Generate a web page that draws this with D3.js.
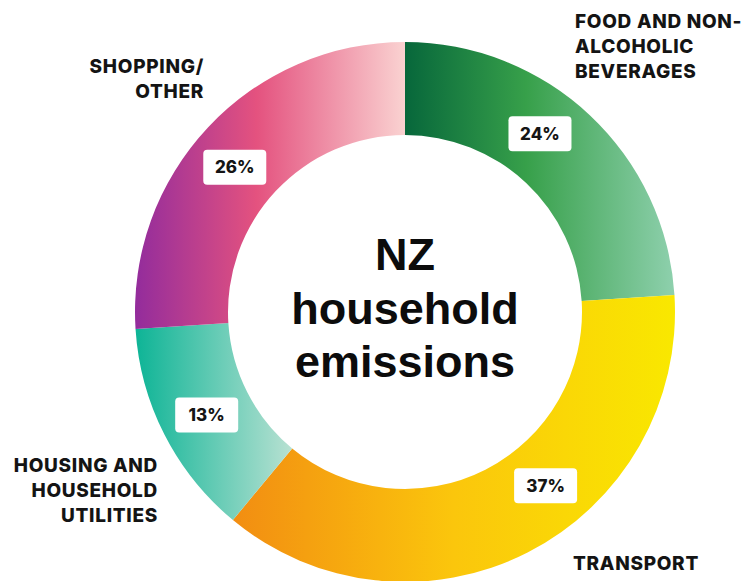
<!DOCTYPE html>
<html>
<head>
<meta charset="utf-8">
<script src="https://cdn.jsdelivr.net/npm/d3@7"></script>
<style>
  html, body { margin: 0; padding: 0; background: #ffffff; }
  svg { display: block; }
</style>
</head>
<body>
<div id="chart"></div>
<script>
// ---- data ----
const categories = ["FOOD AND NON-ALCOHOLIC BEVERAGES", "TRANSPORT", "HOUSING AND HOUSEHOLD UTILITIES", "SHOPPING/OTHER"];
const shares = [24, 37, 13, 26];
const percentLabels = ["24%", "37%", "13%", "26%"];
const categoryLines = [
  ["FOOD AND NON-", "ALCOHOLIC", "BEVERAGES"],
  ["TRANSPORT"],
  ["HOUSING AND", "HOUSEHOLD", "UTILITIES"],
  ["SHOPPING/", "OTHER"]
];
const centerTitle = ["NZ", "household", "emissions"];

// ---- layout / style ----
const W = 744, H = 581;
const cx = 405, cy = 312;
const outerR = 270, innerR = 177;
const gradients = [
  [[0, "#07673b"], [0.45, "#37a04a"], [1, "#8ed0ad"]],
  [[0, "#f28d12"], [0.5, "#fbc60c"], [1, "#f9e800"]],
  [[0, "#0db496"], [1, "#b8e1d2"]],
  [[0, "#932c9c"], [0.45, "#e4527f"], [1, "#fad2d1"]]
];
// position of the % box along each arc (fraction of its sweep)
const labelFrac = [0.43, 0.41, 0.49, 0.47];
const labelAnchors = [
  {x: 575, y: 28, anchor: "start"},
  {x: 573, y: 570, anchor: "start"},
  {x: 158, y: 472, anchor: "end"},
  {x: 204, y: 73, anchor: "end"}
];
const catLineH = 25;

const svg = d3.select("#chart").append("svg")
  .attr("width", W).attr("height", H);

const defs = svg.append("defs");
gradients.forEach((stops, i) => {
  const g = defs.append("linearGradient")
    .attr("id", "grad" + i)
    .attr("x1", 0).attr("y1", 0).attr("x2", 1).attr("y2", 0);
  stops.forEach(([o, c]) => g.append("stop").attr("offset", o).attr("stop-color", c));
});

const pie = d3.pie().sort(null).value(d => d)(shares);
const arc = d3.arc().innerRadius(innerR).outerRadius(outerR);

const g = svg.append("g").attr("transform", `translate(${cx},${cy})`);

g.selectAll("path.slice")
  .data(pie)
  .join("path")
  .attr("class", "slice")
  .attr("d", arc)
  .attr("fill", (d, i) => `url(#grad${i})`);

// percentage boxes
const midR = (innerR + outerR) / 2;
const boxW = 63, boxH = 35;
const lab = g.selectAll("g.pct")
  .data(pie)
  .join("g")
  .attr("class", "pct")
  .attr("transform", (d, i) => {
    const a = d.startAngle + (d.endAngle - d.startAngle) * labelFrac[i];
    const x = midR * Math.sin(a), y = -midR * Math.cos(a);
    return `translate(${x},${y})`;
  });
lab.append("rect")
  .attr("x", -boxW / 2).attr("y", -boxH / 2)
  .attr("width", boxW).attr("height", boxH)
  .attr("rx", 4).attr("fill", "#ffffff");
lab.append("text")
  .attr("text-anchor", "middle")
  .attr("dy", "0.36em")
  .attr("font-family", "Inter, 'Liberation Sans', Arial, sans-serif")
  .attr("font-weight", 800)
  .attr("font-size", 17)
  .attr("fill", "#151515")
  .text((d, i) => percentLabels[i]);

// category labels
categoryLines.forEach((lines, i) => {
  const a = labelAnchors[i];
  const t = svg.append("text")
    .attr("text-anchor", a.anchor)
    .attr("font-family", "Inter, 'Liberation Sans', Arial, sans-serif")
    .attr("font-weight", 800)
    .attr("font-size", 19)
    .attr("letter-spacing", 0.7)
    .attr("fill", "#141414");
  lines.forEach((ln, j) => {
    t.append("tspan").attr("x", a.x).attr("y", a.y + j * catLineH).text(ln);
  });
});

// center title
const ct = svg.append("text")
  .attr("text-anchor", "middle")
  .attr("font-family", "'Liberation Sans', Arial, sans-serif")
  .attr("font-weight", 700)
  .attr("font-size", 45)
  .attr("fill", "#0c0c0c");
centerTitle.forEach((ln, j) => {
  ct.append("tspan").attr("x", cx).attr("y", 270 + j * 53.5).text(ln);
});
</script>
</body>
</html>
